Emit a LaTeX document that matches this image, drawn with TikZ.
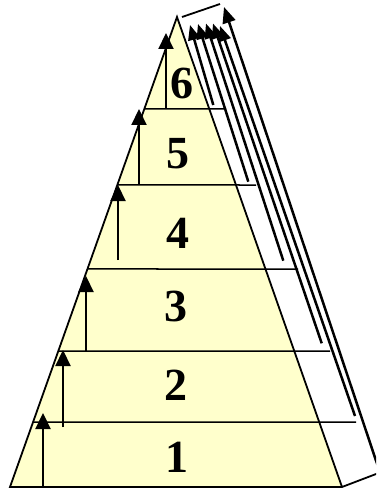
\documentclass[tikz,border=0pt]{standalone}
\usepackage{fontspec}
\setmainfont{Liberation Serif}
\usetikzlibrary{arrows.meta,calc}
\definecolor{layerfill}{HTML}{FFFFCC}
\tikzset{
  edge/.style={line width=1.8pt, line join=miter},
  layerline/.style={line width=1.5pt},
  uparrow/.style={line width=2.2pt, -{Triangle[length=16pt,width=15pt]}},
  sidearrow/.style={line width=2.5pt, -{Triangle[length=15pt,width=12pt]}},
  bigside/.style={line width=2.5pt, -{Triangle[length=16pt,width=13pt]}},
  num/.style={inner sep=0pt, font=\fontsize{46}{46}\selectfont\bfseries}
}
\begin{document}
\begin{tikzpicture}[x=1pt,y=-1pt]
\useasboundingbox (0,0) rectangle (376,489);
\clip (0,0) rectangle (376,489);
% pyramid corners
\coordinate (apex) at (177,17);
\coordinate (BL) at (10,487);
\coordinate (BR) at (342,487);
\coordinate (BB) at (380,472.5);
\fill[layerfill] (apex) -- (BL) -- (BR) -- cycle;
% layer lines: left ends on left edge
\coordinate (L6) at ($(apex)!{(109-17)/470}!(BL)$);
\coordinate (L5) at ($(apex)!{(185-17)/470}!(BL)$);
\coordinate (L4) at ($(apex)!{(269-17)/470}!(BL)$);
\coordinate (L3) at ($(apex)!{(351-17)/470}!(BL)$);
\coordinate (L2) at ($(apex)!{(422-17)/470}!(BL)$);
\coordinate (R6) at (226,109);
\coordinate (R5) at (256,185);
\coordinate (R4) at (298,269);
\coordinate (R3) at (330,351);
\coordinate (R2) at (356,422);
\foreach \i in {2,...,6} { \draw[layerline] (L\i) -- (R\i); }
% outline
\draw[edge] (BB) -- (BR) -- (BL) -- (apex) -- (BR);
\coordinate (T1) at (182,17);
\coordinate (T2) at (220,4);
\draw[edge] (T1) -- (T2);
% right side arrows
\coordinate (S6a) at (213.3,105);  \coordinate (S6b) at (190,25);
\coordinate (S5a) at (248.3,181.7);\coordinate (S5b) at (198,24);
\coordinate (S4a) at (283.3,260.7);\coordinate (S4b) at (206,23.5);
\coordinate (S3a) at (321.7,343.3);\coordinate (S3b) at (213,23.5);
\coordinate (S2a) at (355,416);    \coordinate (S2b) at (220,26);
\coordinate (S1b) at (224,7);
\foreach \i in {6,5,4,3,2} { \draw[sidearrow] (S\i a) -- (S\i b); }
\draw[bigside] (BB) -- (S1b);
% left arrows
\coordinate (A1a) at (43,487);  \coordinate (A1b) at (43,413);
\coordinate (A2a) at (63,427);  \coordinate (A2b) at (63,350);
\coordinate (A3a) at (86,351);  \coordinate (A3b) at (86,276);
\coordinate (A4a) at (118,260); \coordinate (A4b) at (118,185);
\coordinate (A5a) at (139,185); \coordinate (A5b) at (139,109);
\coordinate (A6a) at (166,109); \coordinate (A6b) at (166,33);
\foreach \i in {1,...,6} { \draw[uparrow] (A\i a) -- (A\i b); }
% numbers
\node[num] (n6) at (182,83) {6};
\node[num] (n5) at (177.5,154) {5};
\node[num] (n4) at (178,233) {4};
\node[num] (n3) at (176,306) {3};
\node[num] (n2) at (176,385) {2};
\node[num] (n1) at (177,457) {1};
\end{tikzpicture}
\end{document}
